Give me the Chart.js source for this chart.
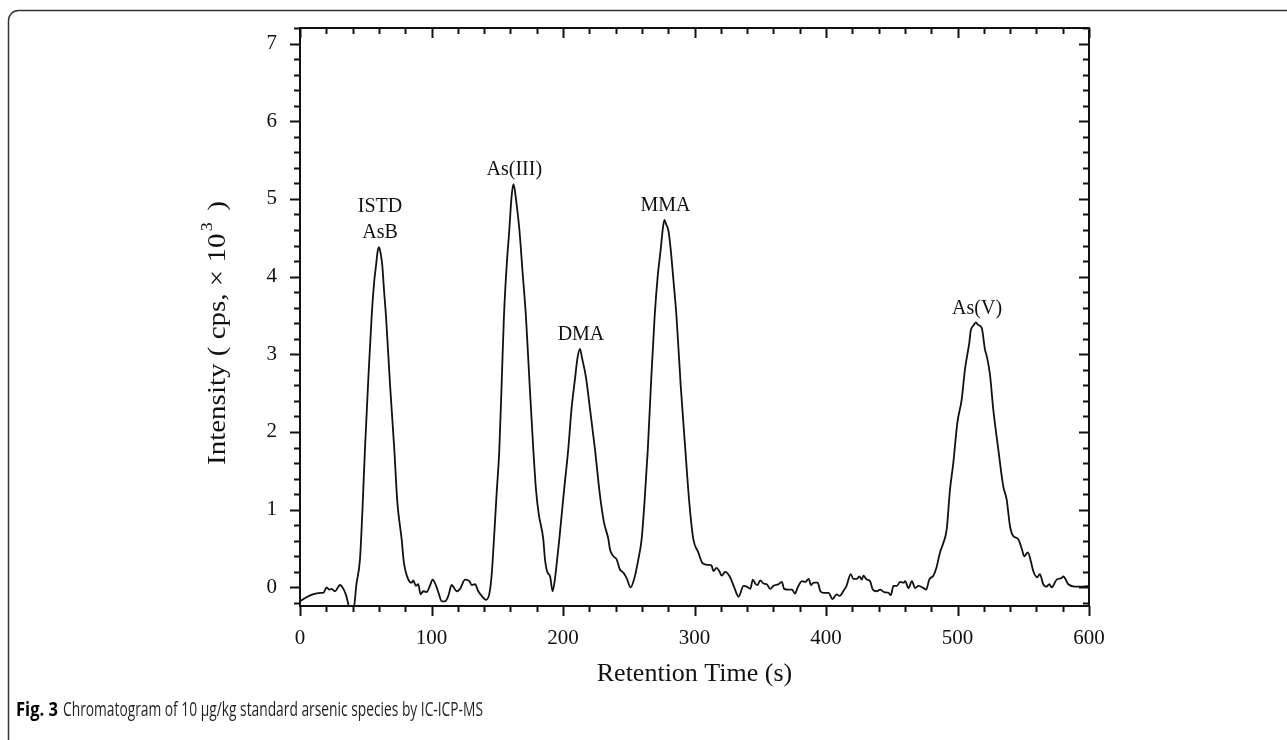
<!DOCTYPE html>
<html>
<head>
<meta charset="utf-8">
<script src="https://cdn.jsdelivr.net/npm/chart.js@4.4.1/dist/chart.umd.min.js"></script>
<style>
  html, body { margin: 0; padding: 0; background: #fff; }
  canvas { display: block; }
</style>
</head>
<body>
<canvas id="chart" width="1287" height="740"></canvas>
<script>
// retention time (s) and intensity (cps x 10^3)
const retentionTime = [
  0, 4.6, 9.7, 15.2, 17.7, 20.3, 22.3, 24, 26.6, 30.4, 33, 35, 36.8, 38.5, 40.6, 43, 45.6,
  47.5, 49.4, 52, 54.5, 56.5, 57.8, 59, 60.1, 61.3, 62.6, 64, 65.4, 68.5, 71.7, 74, 77.3,
  79, 82.4, 84.9, 86.1, 88.1, 89.9, 91.7, 93.7, 96.3, 98.8, 100.9, 103.5, 105.3, 107.8,
  110.3, 112.8, 115.3, 119.2, 121.7, 125.5, 128.8, 130.6, 133.1, 135.6, 138.2, 141.4,
  143.9, 145.7, 147.5, 149.5, 151.6, 153.5, 155.1, 157.2, 159.2, 160.7, 162.2, 163.3,
  164.3, 166.8, 169.3, 171.8, 174.5, 177.4, 179.5, 181.5, 185, 186.3, 188, 190.2, 192.1,
  193.8, 195.5, 197.2, 200.5, 204, 206.5, 209.1, 211, 212.9, 214.5, 217.5, 220.5, 224.3,
  228, 231, 234.5, 235.7, 238.3, 240.8, 243.3, 245.9, 248.4, 251.4, 254, 257.3, 259.8,
  262, 264.5, 267, 269.7, 272, 274.3, 275.8, 277.1, 278.5, 280.2, 281.9, 284, 286.3,
  289.5, 293, 296, 299.1, 302.9, 306.2, 310.5, 313, 314.3, 316.8, 318.8, 320.7, 323.3,
  327.1, 330.2, 333.5, 337.3, 339.8, 342.4, 344.4, 346.2, 347.9, 350, 352.5, 355, 357.6,
  360.1, 363.9, 366.4, 368.2, 371.5, 374.1, 376.4, 378.5, 381.8, 384.3, 386.8, 388.6,
  390.6, 393.7, 395.7, 398.2, 402, 404.9, 408, 410.5, 413.1, 415.6, 418.8, 420.8, 423.4,
  425.4, 427.2, 428.4, 431, 433.5, 435.6, 438.6, 441.1, 444.2, 447.5, 449.3, 451.3,
  453.9, 456.4, 459, 460.2, 462.7, 465.3, 467.8, 470.4, 474.2, 476.2, 478.5, 481.6,
  484.1, 486.7, 489.2, 491.8, 494.3, 496.8, 499.9, 503.2, 505.7, 507.5, 509, 510, 512.1,
  514.1, 515.5, 518.4, 520.9, 522.2, 524.7, 527.2, 531, 534.8, 537.4, 539.9, 542.4,
  546.2, 549, 550.8, 553.5, 556, 557.6, 560.6, 562.6, 565.2, 567.7, 569.8, 571.6, 575.4,
  579.2, 580.5, 584.3, 589.4, 595.7, 600
];
const intensity = [
  -0.18, -0.13, -0.09, -0.07, -0.07, 0.00, -0.03, -0.02, -0.05, 0.03, -0.02, -0.10, -0.22, -0.32, -0.30, 0.05, 0.36,
  1.0, 1.78, 2.7, 3.49, 3.95, 4.14, 4.32, 4.38, 4.30, 4.14, 3.8, 3.49, 2.6, 1.78, 1.1, 0.62,
  0.32, 0.10, 0.06, 0.09, 0.02, 0.04, -0.09, -0.05, -0.06, 0.02, 0.10, 0.02, -0.07, -0.18,
  -0.18, -0.11, 0.03, -0.05, -0.02, 0.10, 0.08, 0.03, 0.04, -0.05, -0.11, -0.16,
  -0.09, 0.15, 0.62, 1.2, 1.78, 2.7, 3.49, 4.15, 4.61, 4.99, 5.19, 5.12,
  4.99, 4.61, 4.05, 3.49, 2.65, 1.78, 1.25, 0.95, 0.62, 0.36, 0.20, 0.14, -0.05,
  0.10, 0.35, 0.62, 1.2, 1.78, 2.3, 2.68, 2.95, 3.07, 2.95, 2.70, 2.3, 1.78,
  1.2, 0.85, 0.62, 0.49, 0.40, 0.36, 0.23, 0.19, 0.12, 0.00, 0.10, 0.36, 0.62,
  1.1, 1.78, 2.65, 3.49, 4.0, 4.35, 4.6, 4.73, 4.67, 4.59, 4.35, 3.95, 3.49,
  2.6, 1.78, 1.1, 0.62, 0.45, 0.31, 0.29, 0.28, 0.21, 0.25, 0.21, 0.15, 0.20,
  0.13, 0.00, -0.12, 0.02, 0.01, -0.02, 0.10, 0.05, 0.03, 0.09, 0.05, 0.04, -0.02,
  0.02, 0.04, 0.07, -0.02, -0.03, -0.03, -0.08, 0.00, 0.08, 0.07, 0.11, 0.03,
  0.06, 0.06, -0.05, -0.07, -0.07, -0.15, -0.09, -0.11, -0.05, 0.02, 0.17, 0.11, 0.11,
  0.14, 0.10, 0.15, 0.10, 0.08, -0.03, -0.05, -0.03, -0.06, -0.07, -0.10, 0.02,
  0.02, 0.07, 0.06, 0.08, -0.01, 0.08, -0.01, 0.02, -0.01, -0.03, 0.10, 0.15,
  0.26, 0.45, 0.57, 0.75, 1.26, 1.6, 2.12, 2.42, 2.81, 3.0, 3.15, 3.30, 3.37,
  3.41, 3.38, 3.34, 3.06, 2.98, 2.74, 2.29, 1.78, 1.30, 1.13, 0.79, 0.66,
  0.62, 0.49, 0.40, 0.45, 0.32, 0.21, 0.13, 0.17, 0.04, 0.01, 0.04, 0.00, 0.10,
  0.12, 0.14, 0.04, 0.01, 0.01, 0.02
];

// peak annotations (label lines, apex time, apex height)
const peakNames = [['ISTD', 'AsB'], ['As(III)'], ['DMA'], ['MMA'], ['As(V)']];
const peakTimes = [60.1, 162.2, 212.9, 277.1, 514.1];
const peakHeights = [4.38, 5.19, 3.07, 4.73, 3.41];

// axis ticks
const xTickValues = [0, 100, 200, 300, 400, 500, 600];
const yTickValues = [0, 1, 2, 3, 4, 5, 6, 7];
const xMinorStep = 20;
const yMinorStep = 0.2;

const xTitle = 'Retention Time (s)';
const yTitle = ['Intensity ( cps, \u00d7 10', '3', ' )'];
const captionBold = 'Fig. 3';
const captionText = 'Chromatogram of 10 \u00b5g/kg standard arsenic species by IC-ICP-MS';

const serif = '"Liberation Serif", "Times New Roman", serif';

// draw text squeezed or stretched to a given width
function fitText(ctx, text, x, y, width) {
  const w = ctx.measureText(text).width;
  ctx.save();
  ctx.translate(x, y);
  ctx.scale(width / w, 1);
  ctx.fillText(text, 0, 0);
  ctx.restore();
}

const decorations = {
  id: 'decorations',
  afterDraw(chart) {
    const { ctx, chartArea: a, scales: { x, y } } = chart;
    ctx.save();

    // rounded frame around the figure
    ctx.strokeStyle = '#333';
    ctx.lineWidth = 1.5;
    ctx.beginPath();
    ctx.roundRect(8.5, 10.5, 1320, 760, 10);
    ctx.stroke();

    // plot box
    ctx.strokeStyle = '#111';
    ctx.lineWidth = 2;
    ctx.strokeRect(a.left, a.top, a.right - a.left, a.bottom - a.top);

    // ticks: bottom/left point out, top/right point in
    ctx.lineWidth = 2;
    ctx.beginPath();
    for (let v = 0; v <= 600 + 1e-6; v += xMinorStep) {
      const major = Math.abs(v % 100) < 1e-6;
      const len = major ? 10 : 6;
      const px = Math.round(x.getPixelForValue(v)) + 0.5;
      ctx.moveTo(px, a.bottom); ctx.lineTo(px, a.bottom + len);
      ctx.moveTo(px, a.top); ctx.lineTo(px, a.top + len);
    }
    for (let i = -1; i <= 36; i++) {
      const v = i * yMinorStep;
      const major = i % 5 === 0;
      const len = major ? 10 : 6;
      const py = Math.round(y.getPixelForValue(v)) + 0.5;
      ctx.moveTo(a.left, py); ctx.lineTo(a.left - len, py);
      ctx.moveTo(a.right, py); ctx.lineTo(a.right - len, py);
    }
    ctx.stroke();

    // peak labels
    ctx.fillStyle = '#111';
    ctx.font = '20px ' + serif;
    ctx.textAlign = 'center';
    ctx.textBaseline = 'middle';
    peakNames.forEach((lines, i) => {
      const px = x.getPixelForValue(peakTimes[i]) + 1;
      const py = y.getPixelForValue(peakHeights[i]) - 14;
      lines.slice().reverse().forEach((t, j) => {
        ctx.fillText(t, px, py - j * 26);
      });
    });

    // x title
    ctx.font = '26px ' + serif;
    ctx.fillText(xTitle, (a.left + a.right) / 2, 674);

    // y title with superscript, stretched to the length of the original
    ctx.save();
    ctx.translate(218, 333);
    ctx.rotate(-Math.PI / 2);
    ctx.textAlign = 'left';
    ctx.font = '26px ' + serif;
    const w0 = ctx.measureText(yTitle[0]).width;
    const w2 = ctx.measureText(yTitle[2]).width;
    ctx.font = '16px ' + serif;
    const w1 = ctx.measureText(yTitle[1]).width;
    const total = w0 + w1 + w2 + 6;
    ctx.scale(264 / total, 1);
    let cx = -total / 2;
    ctx.font = '26px ' + serif;
    ctx.fillText(yTitle[0], cx, 0);
    cx += w0 + 2;
    ctx.font = '16px ' + serif;
    ctx.fillText(yTitle[1], cx, -10);
    cx += w1 + 4;
    ctx.font = '26px ' + serif;
    ctx.fillText(yTitle[2], cx, 0);
    ctx.restore();

    // caption in a condensed look, like the original
    ctx.textAlign = 'left';
    ctx.textBaseline = 'alphabetic';
    ctx.fillStyle = '#000';
    ctx.font = 'bold 20px "Open Sans", sans-serif';
    fitText(ctx, captionBold, 16, 716, 42);
    ctx.fillStyle = '#231f20';
    ctx.font = '20px "Open Sans", sans-serif';
    fitText(ctx, captionText, 63, 716, 420);

    ctx.restore();
  }
};

const ctx = document.getElementById('chart').getContext('2d');
new Chart(ctx, {
  type: 'line',
  data: {
    datasets: [{
      data: retentionTime.map((t, i) => ({ x: t, y: intensity[i] })),
      borderColor: '#111',
      borderWidth: 1.8,
      pointRadius: 0,
      cubicInterpolationMode: 'monotone',
      fill: false
    }]
  },
  options: {
    responsive: false,
    animation: false,
    devicePixelRatio: 1,
    layout: { padding: { left: 0, top: 28, right: 198, bottom: 0 } },
    plugins: {
      legend: { display: false },
      tooltip: { enabled: false }
    },
    scales: {
      x: {
        type: 'linear',
        min: 0,
        max: 600,
        grid: { display: false },
        border: { display: false },
        afterBuildTicks: s => { s.ticks = xTickValues.map(v => ({ value: v })); },
        afterFit: s => { s.height = 134; },
        ticks: {
          padding: 12,
          maxRotation: 0,
          autoSkip: false,
          color: '#111',
          font: { family: serif, size: 21 }
        }
      },
      y: {
        type: 'linear',
        min: -0.24,
        max: 7.2,
        grid: { display: false },
        border: { display: false },
        afterBuildTicks: s => { s.ticks = yTickValues.map(v => ({ value: v })); },
        afterFit: s => { s.width = 300; },
        ticks: {
          padding: 15,
          color: '#111',
          font: { family: serif, size: 21 }
        }
      }
    }
  },
  plugins: [decorations]
});
</script>
</body>
</html>
